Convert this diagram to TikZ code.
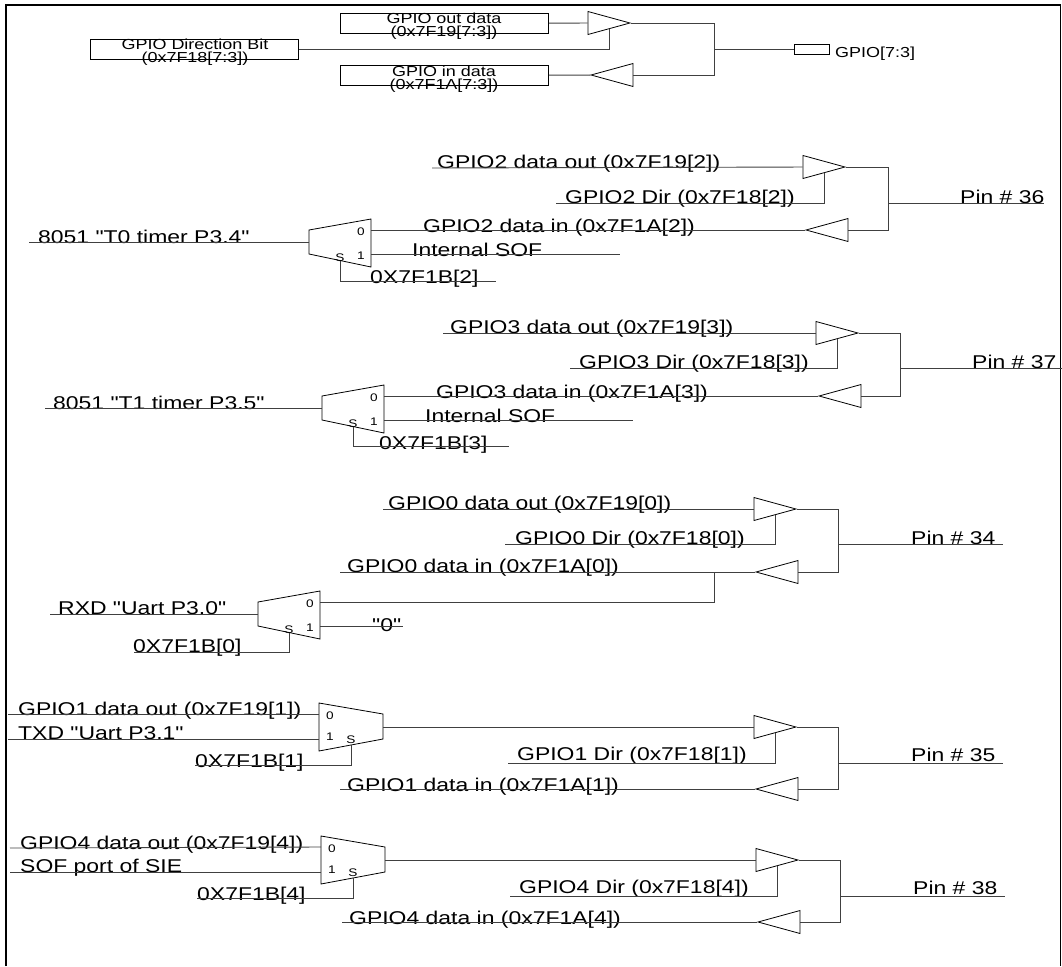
\documentclass[tikz,border=0pt]{standalone}
\usepackage{fontspec}
\setmainfont[FakeStretch=1.24,Ligatures=TeXOff]{Liberation Sans}
\usetikzlibrary{shapes.geometric}
\tikzset{
  wire/.style={draw=black!75,line width=0.9pt},
  lbl/.style={inner sep=0pt,anchor=base west,yshift=-1pt,font=\fontsize{18.5}{18.5}\selectfont},
  small/.style={inner sep=0pt,anchor=base,font=\fontsize{14.5}{14.5}\selectfont},
  tiny/.style={inner sep=0pt,font=\fontsize{11}{11}\selectfont},
  regbox/.style={draw,line width=0.9pt,inner sep=0pt,minimum width=208pt,minimum height=20pt,anchor=north west},
  bufr/.style={draw,line width=0.8pt,isosceles triangle,isosceles triangle stretches,inner sep=0pt,
    minimum height=42pt,minimum width=23pt,shape border rotate=0,anchor=apex},
  bufl/.style={bufr,shape border rotate=180},
  % mux that has one input on the left side
  muxout/.pic={
    \draw[line width=0.8pt] (0,0) -- (62,-11) -- (62,37) -- (0,24) -- cycle;
    \coordinate (-in) at (0,12);
    \coordinate (-zero) at (62,0);
    \coordinate (-one) at (62,24);
    \coordinate (-sel) at (31,31);
    \node[tiny] (-lz) at (52,2) {0};
    \node[tiny] (-lo) at (52,26) {1};
    \node[tiny] (-ls) at (31,28) {S};
  },
  % mux that has one output on the right side
  muxin/.pic={
    \draw[line width=0.8pt] (0,0) -- (64,11) -- (64,36) -- (0,48) -- cycle;
    \coordinate (-out) at (64,24);
    \coordinate (-zero) at (0,11);
    \coordinate (-one) at (0,36);
    \coordinate (-sel) at (32,42);
    \node[tiny] (-lz) at (11,13) {0};
    \node[tiny] (-lo) at (11,34) {1};
    \node[tiny] (-ls) at (32,37) {S};
  }
}
\begin{document}
\begin{tikzpicture}[x=1pt,y=-1pt]
\useasboundingbox (0,0) rectangle (1062,966);
% Frame
\draw[line width=2pt] (6,966) -- (6,5) -- (1061,5);
\draw[line width=1.2pt] (1060.5,5) -- (1060.5,966);

% GPIO[7:3]
\node[regbox] (outreg) at (340,13) {};
\node[regbox] (dirreg) at (90,39) {};
\node[regbox] (inreg) at (340,65) {};
\node[small] (outa) at (444,24) {GPIO out data};
\node[small] (outb) at (444,37) {(0x7F19[7:3])};
\node[small] (dira) at (195,50) {GPIO Direction Bit};
\node[small] (dirb) at (195,63) {(0x7F18[7:3])};
\node[small] (ina) at (444,76) {GPIO in data};
\node[small] (inb) at (444,89) {(0x7F1A[7:3])};
\node[bufr] (bo) at (631,23) {};
\node[bufl] (bi) at (590,75) {};
\node[draw,line width=0.8pt,minimum width=35pt,minimum height=10pt,inner sep=0pt] (port) at (812,49) {};
\node[small,anchor=base west] (portl) at (835,57) {GPIO[7:3]};
\coordinate (j) at (714,49);
\draw[wire] (outreg) -- (bo);
\draw[wire] (bi) -- (inreg);
\draw[wire] (dirreg) -| (bo.right side);
\draw[wire] (bo.apex) -| (j) |- (bi.east);
\draw[wire] (j) -- (port);

% Pin 36
\coordinate (a36) at (432,168);
\coordinate (d36) at (556,203);
\coordinate (j36) at (888,203);
\coordinate (p36) at (1044,203);
\coordinate (t36) at (29,242);
\coordinate (f36) at (620,254);
\coordinate (r36) at (496,281);
\node[bufr] (bo36) at (846,167) {};
\node[bufl] (bi36) at (805,230) {};
\pic (m36) at (309,230) {muxout};
\node[lbl] (ta36) at (437,167) {GPIO2 data out (0x7F19[2])};
\node[lbl] (td36) at (565,202) {GPIO2 Dir (0x7F18[2])};
\node[lbl] (ti36) at (423,231) {GPIO2 data in (0x7F1A[2])};
\node[lbl] (tf36) at (412,255) {Internal SOF};
\node[lbl] (tt36) at (38,242) {8051 "T0 timer P3.4"};
\node[lbl] (tr36) at (370,282) {0X7F1B[2]};
\node[lbl] (tp36) at (960,202) {Pin \# 36};
\draw[wire] (a36) -- (bo36);
\draw[wire] (d36) -| (bo36.right side);
\draw[wire] (bo36.apex) -| (j36) |- (bi36.east);
\draw[wire] (j36) -- (p36);
\draw[wire] (bi36) -- (m36-zero);
\draw[wire] (m36-one) -- (f36);
\draw[wire] (t36) -- (m36-in);
\draw[wire] (m36-sel) |- (r36);

% Pin 37
\coordinate (a37) at (443,333);
\coordinate (d37) at (570,368);
\coordinate (j37) at (900,368);
\coordinate (p37) at (1062,368);
\coordinate (t37) at (45,408);
\coordinate (f37) at (633,420);
\coordinate (r37) at (509,446);
\node[bufr] (bo37) at (859,333) {};
\node[bufl] (bi37) at (818,396) {};
\pic (m37) at (322,396) {muxout};
\node[lbl] (ta37) at (450,332) {GPIO3 data out (0x7F19[3])};
\node[lbl] (td37) at (579,367) {GPIO3 Dir (0x7F18[3])};
\node[lbl] (ti37) at (436,397) {GPIO3 data in (0x7F1A[3])};
\node[lbl] (tf37) at (425,421) {Internal SOF};
\node[lbl] (tt37) at (53,408) {8051 "T1 timer P3.5"};
\node[lbl] (tr37) at (379,448) {0X7F1B[3]};
\node[lbl] (tp37) at (972,367) {Pin \# 37};
\draw[wire] (a37) -- (bo37);
\draw[wire] (d37) -| (bo37.right side);
\draw[wire] (bo37.apex) -| (j37) |- (bi37.east);
\draw[wire] (j37) -- (p37);
\draw[wire] (bi37) -- (m37-zero);
\draw[wire] (m37-one) -- (f37);
\draw[wire] (t37) -- (m37-in);
\draw[wire] (m37-sel) |- (r37);

% Pin 34
\coordinate (a34) at (383,509);
\coordinate (d34) at (505,544);
\coordinate (j34) at (838,544);
\coordinate (p34) at (1003,544);
\coordinate (i34) at (340,572);
\coordinate (k34) at (714,572);
\coordinate (t34) at (50,614);
\coordinate (f34) at (403,626);
\coordinate (r34) at (134,652);
\node[bufr] (bo34) at (797,509) {};
\node[bufl] (bi34) at (755,572) {};
\pic (m34) at (258,602) {muxout};
\node[lbl] (ta34) at (388,508) {GPIO0 data out (0x7F19[0])};
\node[lbl] (td34) at (515,543) {GPIO0 Dir (0x7F18[0])};
\node[lbl] (ti34) at (347,571) {GPIO0 data in (0x7F1A[0])};
\node[lbl] (tf34) at (372,630) {"0"};
\node[lbl] (tt34) at (58,613) {RXD "Uart P3.0"};
\node[lbl] (tr34) at (133,651) {0X7F1B[0]};
\node[lbl] (tp34) at (911,543) {Pin \# 34};
\draw[wire] (a34) -- (bo34);
\draw[wire] (d34) -| (bo34.right side);
\draw[wire] (bo34.apex) -| (j34) |- (bi34.east);
\draw[wire] (j34) -- (p34);
\draw[wire] (bi34) -- (i34);
\draw[wire] (m34-zero) -| (k34);
\draw[wire] (m34-one) -- (f34);
\draw[wire] (t34) -- (m34-in);
\draw[wire] (m34-sel) |- (r34);

% Pin 35
\coordinate (a35) at (8,714);
\coordinate (o35) at (8,739);
\coordinate (r35) at (195,765);
\coordinate (d35) at (508,763);
\coordinate (j35) at (838,763);
\coordinate (p35) at (1003,763);
\coordinate (i35) at (340,789);
\pic (m35) at (319,703) {muxin};
\node[bufr] (bo35) at (797,727) {};
\node[bufl] (bi35) at (755,789) {};
\node[lbl] (ta35) at (18,714) {GPIO1 data out (0x7F19[1])};
\node[lbl] (to35) at (18,738) {TXD "Uart P3.1"};
\node[lbl] (tr35) at (195,766) {0X7F1B[1]};
\node[lbl] (td35) at (517,759) {GPIO1 Dir (0x7F18[1])};
\node[lbl] (ti35) at (347,790) {GPIO1 data in (0x7F1A[1])};
\node[lbl] (tp35) at (911,760) {Pin \# 35};
\draw[wire] (a35) -- (m35-zero);
\draw[wire] (o35) -- (m35-one);
\draw[wire] (m35-sel) |- (r35);
\draw[wire] (m35-out) -- (bo35);
\draw[wire] (d35) -| (bo35.right side);
\draw[wire] (bo35.apex) -| (j35) |- (bi35.east);
\draw[wire] (j35) -- (p35);
\draw[wire] (bi35) -- (i35);

% Pin 38
\coordinate (a38) at (10,848);
\coordinate (o38) at (10,872);
\coordinate (r38) at (197,898);
\coordinate (d38) at (510,896);
\coordinate (j38) at (840,896);
\coordinate (p38) at (1005,896);
\coordinate (i38) at (342,922);
\pic (m38) at (321,836) {muxin};
\node[bufr] (bo38) at (799,860) {};
\node[bufl] (bi38) at (757,922) {};
\node[lbl] (ta38) at (20,848) {GPIO4 data out (0x7F19[4])};
\node[lbl] (to38) at (20,871) {SOF port of SIE};
\node[lbl] (tr38) at (197,899) {0X7F1B[4]};
\node[lbl] (td38) at (519,892) {GPIO4 Dir (0x7F18[4])};
\node[lbl] (ti38) at (349,923) {GPIO4 data in (0x7F1A[4])};
\node[lbl] (tp38) at (913,893) {Pin \# 38};
\draw[wire] (a38) -- (m38-zero);
\draw[wire] (o38) -- (m38-one);
\draw[wire] (m38-sel) |- (r38);
\draw[wire] (m38-out) -- (bo38);
\draw[wire] (d38) -| (bo38.right side);
\draw[wire] (bo38.apex) -| (j38) |- (bi38.east);
\draw[wire] (j38) -- (p38);
\draw[wire] (bi38) -- (i38);
\end{tikzpicture}
\end{document}
